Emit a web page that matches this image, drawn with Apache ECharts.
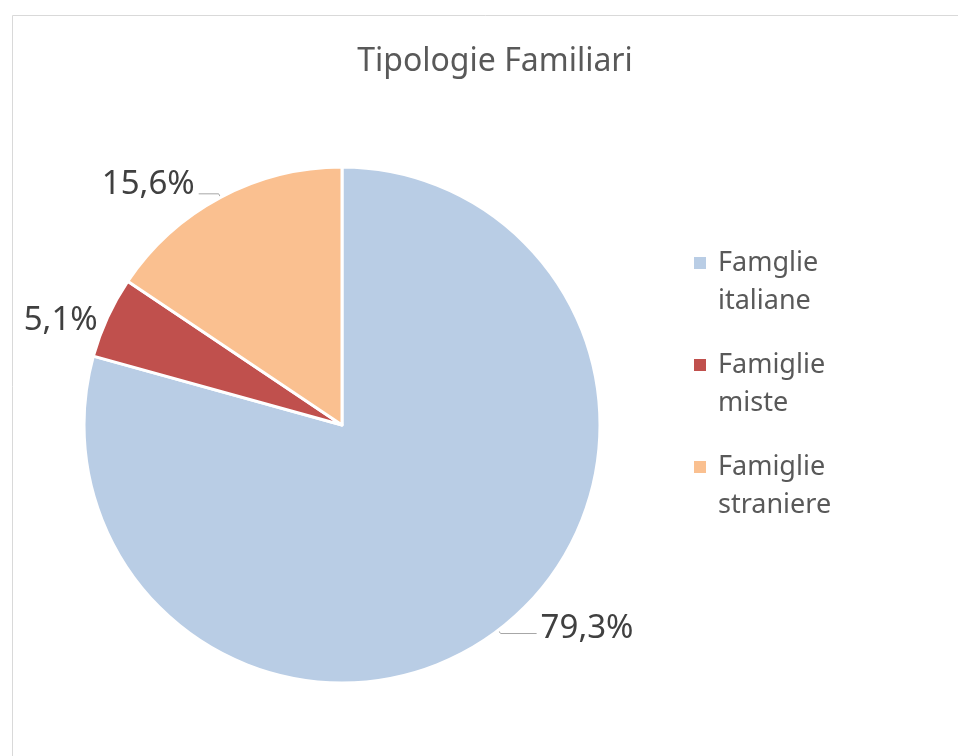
<!DOCTYPE html>
<html lang="it">
<head>
    <meta charset="UTF-8">
    <title>Tipologie Familiari</title>
    <script src="https://cdn.jsdelivr.net/npm/echarts@6/dist/echarts.min.js"></script>
    <style>
        html, body { margin: 0; padding: 0; background: #fff; overflow: hidden; }
        #main { width: 958px; height: 756px; }
    </style>
</head>
<body>
<div id="main"></div>
<script type="text/javascript">

    // dati
    const categorie = ['Famglie italiane', 'Famiglie miste', 'Famiglie straniere']
    const legendaTesti = ['Famglie\nitaliane', 'Famiglie\nmiste', 'Famiglie\nstraniere']
    const valori = [79.3, 5.1, 15.6]
    const colori = ['#B9CDE5', '#C0504D', '#FAC090']

    const font = '"Noto Sans", "Open Sans", sans-serif'

    let chart = echarts.init(document.getElementById('main'))

    chart.setOption({
        animation: false,
        color: colori,
        title: {
            text: 'Tipologie Familiari',
            left: 490,
            top: 41,
            textAlign: 'center',
            textStyle: { fontFamily: font, fontSize: 32, fontWeight: 'normal', color: '#595959' }
        },
        graphic: [{
            type: 'rect',
            shape: { x: 12.5, y: 15.5, width: 2000, height: 2000 },
            style: { fill: 'none', stroke: '#d9d9d9', lineWidth: 1 },
            silent: true
        }],
        legend: {
            orient: 'vertical',
            left: 687,
            top: 201,
            icon: 'rect',
            itemWidth: 14,
            itemHeight: 14,
            itemGap: -12,
            // riga vuota in testa: l'icona resta allineata alla prima riga
            formatter: name => '\n' + legendaTesti[categorie.indexOf(name)],
            textStyle: {
                fontFamily: font,
                fontSize: 27,
                color: '#595959',
                lineHeight: 38,
                padding: [0, 0, 0, 6]
            },
            data: categorie
        },
        series: [{
            type: 'pie',
            center: [342, 425],
            radius: [0, 258],
            startAngle: 90,
            clockwise: true,
            itemStyle: { borderColor: '#fff', borderWidth: 3 },
            label: {
                show: true,
                position: 'outside',
                formatter: p => p.value.toFixed(1).replace('.', ',') + '%',
                fontFamily: font,
                fontSize: 33,
                color: '#404040',
                distanceToLabelLine: 4
            },
            labelLine: {
                show: true,
                length: 4,
                length2: 36,
                smooth: false,
                lineStyle: { color: '#a6a6a6', width: 1 }
            },
            data: categorie.map((c, i) => {
                const d = { name: c, value: valori[i] }
                if (i === 0) d.label = { offset: [0, -5] }
                if (i === 1) {
                    d.labelLine = { show: false, length: 2, length2: 4 }
                    d.label = { offset: [0, 4] }
                }
                if (i === 2) {
                    d.labelLine = { length: 4, length2: 20 }
                    d.label = { offset: [0, -9] }
                }
                return d
            })
        }]
    })

</script>
</body>
</html>
